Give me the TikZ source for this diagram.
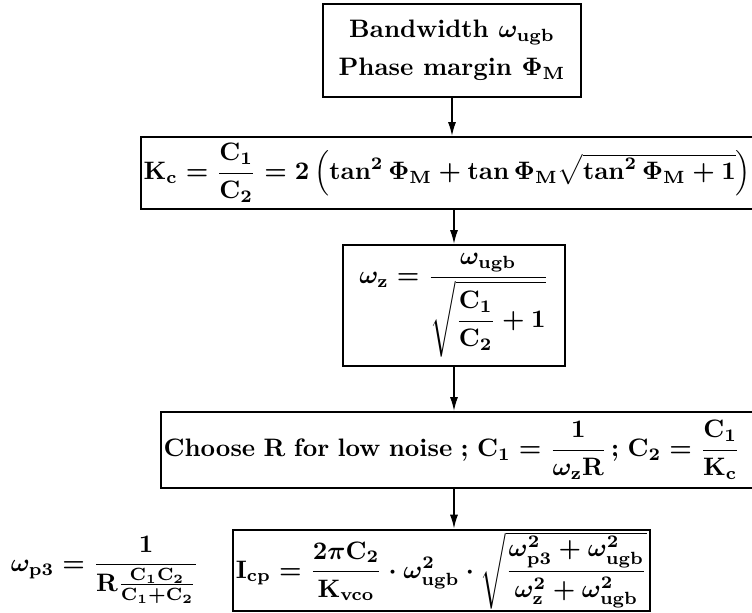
\documentclass[tikz,border=0pt]{standalone}
\usepackage{amsmath}
\usetikzlibrary{arrows.meta}
\begin{document}
\begin{tikzpicture}[x=0.396pt,y=-0.396pt,
  box/.style={draw,line width=0.8pt,font=\bfseries\boldmath,inner sep=1pt},
  arr/.style={line width=0.6pt,-{Latex[length=5.5pt,width=3.2pt]}},
  lbl/.style={font=\bfseries\boldmath,inner sep=0pt}]
\clip (0,0) rectangle (752,613);
\node[box,align=center,minimum width={258*0.396pt},minimum height={93*0.396pt}] (b1) at (452,50.5)
  {Bandwidth $\omega_{\mathbf{ugb}}$\\[3pt] Phase margin $\Phi_{\mathbf{M}}$};
\node[box,anchor=west,minimum height={72*0.396pt},text width=252pt,align=left] (b2) at (140,173)
  {$\mathbf{K}_{\mathbf{c}}=\dfrac{\mathbf{C}_{\mathbf 1}}{\mathbf{C}_{\mathbf 2}}=2\left(\tan^2\Phi_{\mathbf{M}}+\tan\Phi_{\mathbf{M}}\sqrt{\tan^2\Phi_{\mathbf{M}}+1}\right)$};
\node[box,minimum width={222*0.396pt},minimum height={121*0.396pt}] (b3) at (454,305.5)
  {$\omega_{\mathbf z}=\dfrac{\omega_{\mathbf{ugb}}}{\sqrt{\dfrac{\mathbf{C}_{\mathbf 1}}{\mathbf{C}_{\mathbf 2}}+1}}$};
\node[box,anchor=west,minimum height={76*0.396pt},text width=252pt,align=left] (b4) at (160,450)
  {Choose R for low noise ;\ $\mathbf{C}_{\mathbf 1}=\dfrac{1}{\omega_{\mathbf z}\mathbf{R}}$\,;\ $\mathbf{C}_{\mathbf 2}=\dfrac{\mathbf{C}_{\mathbf 1}}{\mathbf{K}_{\mathbf c}}$};
\node[box,minimum width={413*0.396pt},minimum height={61*0.396pt}] (b5) at (441.5,570.5)
  {$\mathbf{I}_{\mathbf{cp}}=\dfrac{2\pi\mathbf{C}_{\mathbf 2}}{\mathbf{K}_{\mathbf{vco}}}\cdot\omega^2_{\mathbf{ugb}}\cdot\sqrt{\dfrac{\omega^2_{\mathbf{p3}}+\omega^2_{\mathbf{ugb}}}{\omega^2_{\mathbf z}+\omega^2_{\mathbf{ugb}}}}$};
\node[lbl] (wp) at (105,570)
  {$\omega_{\mathbf{p3}}=\dfrac{1}{\mathbf{R}\frac{\mathbf{C}_{\mathbf 1}\mathbf{C}_{\mathbf 2}}{\mathbf{C}_{\mathbf 1}+\mathbf{C}_{\mathbf 2}}}$};
\draw[arr] (b1.south) -- (b1.south |- b2.north);
\draw[arr] (b3.north |- b2.south) -- (b3.north);
\draw[arr] (b3.south) -- (b3.south |- b4.north);
\draw[arr] (b3.south |- b4.south) -- (b3.south |- b5.north);
\end{tikzpicture}
\end{document}
